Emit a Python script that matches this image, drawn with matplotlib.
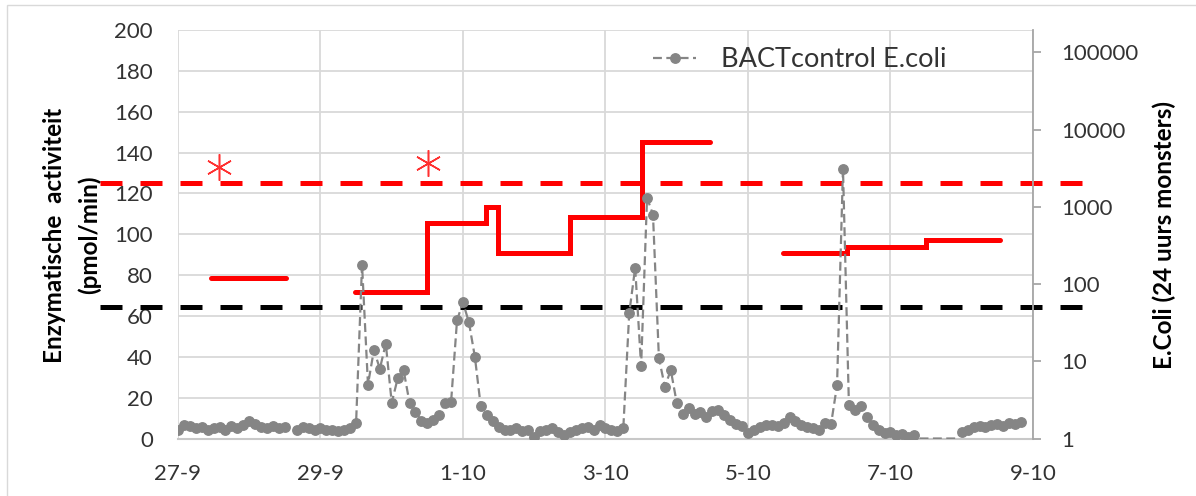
import numpy as np
import matplotlib
matplotlib.use("Agg")
import matplotlib.pyplot as plt
from matplotlib.lines import Line2D
from matplotlib.patches import Rectangle

plt.rcParams['font.family'] = ['Lato', 'DejaVu Sans']

# x axis: days since 27-9
date_ticks = [0, 2, 4, 6, 8, 10, 12]
date_labels = ['27-9', '29-9', '1-10', '3-10', '5-10', '7-10', '9-10']

# enzymatic activity (pmol/min), 24h blocks: edges in days, values
enz_edges_1 = [0.47, 1.52]
enz_vals_1 = [78.5]
enz_edges_2 = [2.48, 3.49, 4.33, 4.49, 5.50, 6.51, 7.47]
enz_vals_2 = [71.6, 105.4, 113.2, 90.7, 108.6, 145.3]
enz_edges_3 = [8.49, 9.39, 10.50, 11.54]
enz_vals_3 = [90.7, 93.9, 97.2]

# thresholds and alarm markers
red_limit = 125
black_limit = 64.5
alarm_days = [0.57, 3.51]
alarm_vals = [133, 135]

# BACTcontrol E.coli, one value every 2 hours (right axis, log)
ecoli_day0 = [1.3, 1.5, 1.45, 1.35, 1.4, 1.3, 1.35, 1.4, 1.3, 1.45, 1.35, 1.5]
ecoli_day1 = [1.7, 1.55, 1.4, 1.35, 1.45, 1.35, 1.4, np.nan, 1.3, 1.4, 1.35, 1.3]
ecoli_day2 = [1.35, 1.3, 1.3, 1.25, 1.3, 1.35, 1.6, 179, 5.0, 14, 8, 17]
ecoli_day3 = [2.9, 6.0, 7.7, 2.9, 2.2, 1.7, 1.6, 1.75, 2.0, 2.9, 3.0, 34]
ecoli_day4 = [58, 32, 11.5, 2.6, 2.0, 1.7, 1.4, 1.3, 1.3, 1.35, 1.25, 1.3]
ecoli_day5 = [1.05, 1.25, 1.3, 1.35, 1.2, 1.1, 1.2, 1.3, 1.35, 1.4, 1.3, 1.5]
ecoli_day6 = [1.35, 1.3, 1.25, 1.35, 42, 163, 8.6, 1316, 795, 11, 4.7, 7.7]
ecoli_day7 = [2.9, 2.1, 2.5, 2.1, 2.2, 1.9, 2.3, 2.35, 2.0, 1.75, 1.55, 1.45]
ecoli_day8 = [1.17, 1.3, 1.4, 1.5, 1.5, 1.45, 1.6, 1.9, 1.7, 1.5, 1.4, 1.35]
ecoli_day9 = [1.3, 1.6, 1.55, 4.9, 3100, 2.7, 2.35, 2.6, 1.9, 1.5, 1.3, 1.17]
ecoli_day10 = [1.2, 1.1, 1.15, 1.05, 1.1, 1.0, 1.0, 1.0, 1.0, 1.0, 1.0, 1.0]
ecoli_day11 = [1.2, 1.3, 1.4, 1.45, 1.4, 1.5, 1.55, 1.45, 1.6, 1.55, 1.65]

ecoli = np.array(ecoli_day0 + ecoli_day1 + ecoli_day2 + ecoli_day3 + ecoli_day4
                 + ecoli_day5 + ecoli_day6 + ecoli_day7 + ecoli_day8 + ecoli_day9
                 + ecoli_day10 + ecoli_day11)
ecoli_days = np.arange(len(ecoli)) * 2 / 24

left_ticks = list(range(0, 201, 20))
right_ticks = [1, 10, 100, 1000, 10000, 100000]
right_labels = ['1', '10', '100', '1000', '10000', '100000']

txt = '#333333'
grey = '#858585'

fig = plt.figure(figsize=(11.96, 4.96), dpi=100)
ax = fig.add_axes([0.1488, 0.1159, 0.7149, 0.8234])
ax2 = ax.twinx()

# primary axis
ax.set_xlim(0, 12)
ax.set_ylim(0, 200)
ax.set_yticks(left_ticks)
ax.set_xticks(date_ticks)
ax.set_xticklabels(date_labels)
ax.grid(True, color='#d9d9d9', lw=1.3)
ax.set_axisbelow(True)
for s in ['left', 'top', 'right']:
    ax.spines[s].set_visible(False)
ax.spines['bottom'].set_color('#c8c8c8')
ax.spines['bottom'].set_linewidth(1.5)
ax.tick_params(axis='y', length=0, pad=18, labelsize=16, labelcolor=txt)
ax.tick_params(axis='x', length=0, pad=18, labelsize=16, labelcolor=txt)

for edges, vals in [(enz_edges_1, enz_vals_1), (enz_edges_2, enz_vals_2),
                    (enz_edges_3, enz_vals_3)]:
    st = ax.stairs(vals, edges, baseline=None, color='#ff0000', lw=3.6, zorder=3)
    st.set_capstyle('round')
    st.set_joinstyle('miter')

ax.axhline(red_limit, xmin=-0.091, xmax=1.064, color='#ff0000', lw=3.6,
           dashes=(4.4, 3.6), clip_on=False, zorder=4)
ax.axhline(black_limit, xmin=-0.091, xmax=1.064, color='black', lw=3.6,
           dashes=(4.4, 3.6), clip_on=False, zorder=4)
ax.plot(alarm_days, alarm_vals, ls='none', marker=(6, 2, 0), ms=19,
        mec='#ff3030', mew=1.1, zorder=5)

ax.text(-0.124, 0.498, 'Enzymatische  activiteit\n(pmol/min)', transform=ax.transAxes,
        rotation=90, ha='center', va='center', fontsize=17.5, fontweight='bold',
        linespacing=1.55, color='black')

# secondary axis (log)
ax2.set_yscale('log')
ax2.set_ylim(1, 10 ** 5.29)
ax2.set_yticks(right_ticks)
ax2.set_yticklabels(right_labels)
ax2.yaxis.set_minor_locator(matplotlib.ticker.NullLocator())
for s in ['left', 'top', 'bottom']:
    ax2.spines[s].set_visible(False)
ax2.spines['right'].set_color('#a6a6a6')
ax2.spines['right'].set_linewidth(1.3)
ax2.tick_params(axis='y', length=6, width=1.3, color='#a6a6a6', pad=14,
                labelsize=16, labelcolor=txt)

ax2.plot(ecoli_days, ecoli, color=grey, lw=1.6, dashes=(4, 2), zorder=2)
shown = ecoli > 1
ax2.plot(ecoli_days[shown], ecoli[shown], ls='none', marker='o', ms=6.8,
         color=grey, zorder=3)

ax.text(1.154, 0.498, 'E.Coli (24 uurs monsters)', transform=ax.transAxes,
        rotation=90, ha='center', va='center', fontsize=17.5, fontweight='bold',
        color='black')

proxy = Line2D([], [], color=grey, lw=1.6, dashes=(4, 2), marker='o', ms=6.8)
ax2.legend([proxy], ['BACTcontrol E.coli'], loc='center',
           bbox_to_anchor=(0.727, 0.927), frameon=False, fontsize=19.5,
           handlelength=1.6, handletextpad=0.9, labelcolor=txt)

fig.add_artist(Rectangle((7 / 1196, -0.02), 1.0, (496 - 5) / 496 + 0.02,
                         transform=fig.transFigure, fill=False,
                         edgecolor='#d9d9d9', lw=1.0))

fig.savefig('out.png', dpi=100)
